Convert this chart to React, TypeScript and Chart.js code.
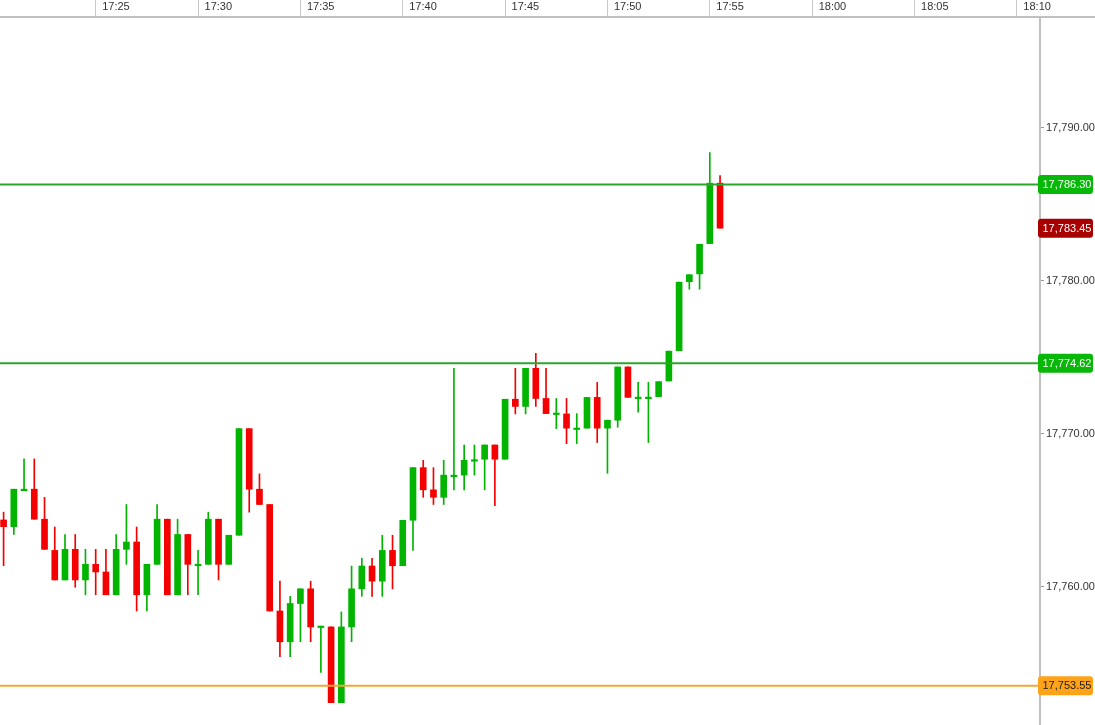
import React, { useEffect, useRef } from "react";
import { Chart, registerables } from "chart.js";

Chart.register(...registerables);

// ---- data ----
const TIMES = [
  "17:20:30", "17:21:00", "17:21:30", "17:22:00", "17:22:30", "17:23:00", "17:23:30", "17:24:00", "17:24:30", "17:25:00",
  "17:25:30", "17:26:00", "17:26:30", "17:27:00", "17:27:30", "17:28:00", "17:28:30", "17:29:00", "17:29:30", "17:30:00",
  "17:30:30", "17:31:00", "17:31:30", "17:32:00", "17:32:30", "17:33:00", "17:33:30", "17:34:00", "17:34:30", "17:35:00",
  "17:35:30", "17:36:00", "17:36:30", "17:37:00", "17:37:30", "17:38:00", "17:38:30", "17:39:00", "17:39:30", "17:40:00",
  "17:40:30", "17:41:00", "17:41:30", "17:42:00", "17:42:30", "17:43:00", "17:43:30", "17:44:00", "17:44:30", "17:45:00",
  "17:45:30", "17:46:00", "17:46:30", "17:47:00", "17:47:30", "17:48:00", "17:48:30", "17:49:00", "17:49:30", "17:50:00",
  "17:50:30", "17:51:00", "17:51:30", "17:52:00", "17:52:30", "17:53:00", "17:53:30", "17:54:00", "17:54:30", "17:55:00",
  "17:55:30",
];

const OPEN = [
  17764.38, 17763.94, 17766.29, 17766.39, 17764.43, 17762.39, 17760.46, 17762.46, 17760.46, 17761.48,
  17760.98, 17759.49, 17762.46, 17762.94, 17759.49, 17761.48, 17764.43, 17759.49, 17763.43, 17761.39,
  17761.48, 17764.43, 17761.48, 17763.38, 17770.35, 17766.39, 17765.39, 17758.43, 17756.42, 17758.92,
  17759.88, 17757.35, 17757.39, 17752.44, 17757.39, 17759.88, 17761.37, 17760.38, 17762.39, 17761.39,
  17764.36, 17767.80, 17766.35, 17765.86, 17767.21, 17767.31, 17768.22, 17768.35, 17769.28, 17768.35,
  17772.27, 17771.80, 17774.29, 17772.32, 17771.27, 17771.31, 17770.29, 17770.38, 17772.39, 17770.38,
  17770.90, 17774.38, 17772.31, 17772.31, 17772.44, 17773.46, 17775.44, 17779.95, 17780.46, 17782.44,
  17786.39,
];

const HIGH = [
  17764.89, 17766.39, 17768.37, 17768.37, 17765.86, 17763.92, 17763.43, 17763.43, 17762.46, 17762.46,
  17762.46, 17763.43, 17765.39, 17763.92, 17761.48, 17765.39, 17764.43, 17764.43, 17763.43, 17762.39,
  17764.89, 17764.43, 17763.38, 17770.35, 17770.35, 17767.39, 17765.39, 17760.38, 17759.39, 17759.88,
  17760.38, 17757.39, 17757.39, 17758.37, 17761.37, 17761.88, 17761.88, 17763.38, 17763.38, 17764.36,
  17767.80, 17768.28, 17767.80, 17768.28, 17774.29, 17769.28, 17769.28, 17769.28, 17769.28, 17772.27,
  17774.29, 17774.29, 17775.27, 17774.29, 17772.32, 17772.32, 17771.33, 17772.39, 17773.37, 17770.90,
  17774.38, 17774.38, 17773.37, 17773.37, 17773.42, 17775.41, 17779.92, 17780.41, 17782.40, 17788.39,
  17786.88,
];

const LOW = [
  17761.39, 17763.43, 17766.29, 17764.43, 17762.46, 17760.46, 17760.46, 17759.98, 17759.49, 17759.49,
  17759.49, 17759.49, 17761.48, 17758.43, 17758.43, 17761.48, 17759.49, 17759.49, 17759.49, 17759.49,
  17761.48, 17760.46, 17761.48, 17763.38, 17764.89, 17765.39, 17758.43, 17755.44, 17755.44, 17756.42,
  17756.42, 17754.42, 17752.44, 17752.44, 17756.42, 17759.39, 17759.39, 17759.39, 17759.88, 17761.39,
  17762.39, 17765.86, 17765.39, 17765.39, 17766.35, 17766.35, 17767.31, 17766.35, 17765.31, 17768.35,
  17771.31, 17771.31, 17771.80, 17771.33, 17770.35, 17769.37, 17769.37, 17770.38, 17769.44, 17767.43,
  17770.44, 17772.39, 17771.42, 17769.44, 17772.44, 17773.46, 17775.44, 17779.46, 17779.46, 17782.44,
  17783.45,
];

const CLOSE = [
  17763.94, 17766.39, 17766.39, 17764.43, 17762.46, 17760.46, 17762.46, 17760.46, 17761.48, 17760.98,
  17759.49, 17762.46, 17762.94, 17759.49, 17761.48, 17764.43, 17759.49, 17763.43, 17761.48, 17761.48,
  17764.43, 17761.48, 17763.38, 17770.35, 17766.39, 17765.39, 17758.43, 17756.42, 17758.92, 17759.88,
  17757.39, 17757.39, 17752.44, 17757.39, 17759.88, 17761.37, 17760.38, 17762.39, 17761.39, 17764.36,
  17767.80, 17766.35, 17765.86, 17767.31, 17767.25, 17768.28, 17768.28, 17769.28, 17768.35, 17772.27,
  17771.80, 17774.29, 17772.32, 17771.33, 17771.31, 17770.38, 17770.33, 17772.39, 17770.38, 17770.90,
  17774.38, 17772.39, 17772.35, 17772.35, 17773.42, 17775.41, 17779.92, 17780.41, 17782.40, 17786.39,
  17783.45,
];

const X_TICK_LABELS = ["17:25", "17:30", "17:35", "17:40", "17:45", "17:50", "17:55", "18:00", "18:05", "18:10"];
const Y_TICKS = [17760, 17770, 17780, 17790];
const LEVELS = [17786.3, 17774.62, 17753.55];

// ---- styles / ranges ----
const X_MIN = 20.325;
const X_MAX = 71.13;
const Y_MIN = 17750.98;
const Y_MAX = 17797.25;
const UP = "#00b400";
const DOWN = "#f50000";
const LEVEL_LINE_COLORS = ["#2ca52c", "#2ca52c", "#f2a634"];
const LEVEL_TAG_COLORS = ["#08b808", "#08b808", "#ffa31a"];
const LEVEL_TEXT_COLORS = ["#ffffff", "#ffffff", "#222222"];
const LAST_TAG_COLOR = "#a80000";
const AXIS_COLOR = "#c0c0c0";
const FONT = "'Liberation Sans', Arial, sans-serif";

const toMin = (t: string) => {
  const [h, m, s = "0"] = t.split(":");
  return (Number(h) - 17) * 60 + Number(m) + Number(s) / 60;
};
const fmt = (v: number) =>
  v.toLocaleString("en-US", { minimumFractionDigits: 2, maximumFractionDigits: 2 });

const tagPlugin = {
  id: "priceTags",
  afterDraw(chart: any) {
    const { ctx, chartArea } = chart;
    const y = chart.scales.y;
    const xs = chart.scales.x;
    ctx.save();
    // extend the top axis line across the price axis
    ctx.strokeStyle = AXIS_COLOR;
    ctx.lineWidth = 2;
    ctx.beginPath();
    ctx.moveTo(chartArea.right, xs.bottom);
    ctx.lineTo(chart.width, xs.bottom);
    ctx.stroke();

    const drawTag = (v: number, bg: string, fg: string) => {
      const py = y.getPixelForValue(v);
      const x0 = chartArea.right - 2;
      const w = 55;
      const h = 19;
      ctx.fillStyle = bg;
      ctx.beginPath();
      if (ctx.roundRect) ctx.roundRect(x0, py - h / 2, w, h, 3);
      else ctx.rect(x0, py - h / 2, w, h);
      ctx.fill();
      ctx.fillStyle = fg;
      ctx.font = `11px ${FONT}`;
      ctx.textAlign = "left";
      ctx.textBaseline = "middle";
      ctx.fillText(fmt(v), x0 + 4.5, py + 0.5);
    };
    LEVELS.forEach((v, i) => drawTag(v, LEVEL_TAG_COLORS[i], LEVEL_TEXT_COLORS[i]));
    drawTag(CLOSE[CLOSE.length - 1], LAST_TAG_COLOR, "#ffffff");
    ctx.restore();
  },
};

export default function App() {
  const ref = useRef<HTMLCanvasElement>(null);

  useEffect(() => {
    if (!ref.current) return;
    Chart.defaults.font.family = FONT;
    Chart.defaults.font.size = 11;

    const xs = TIMES.map(toMin);
    const colors = OPEN.map((o, i) => (CLOSE[i] >= o ? UP : DOWN));

    const levelSets = LEVELS.map((v, i) => ({
      type: "line" as const,
      label: "level" + i,
      data: [
        { x: X_MIN, y: v },
        { x: X_MAX, y: v },
      ],
      borderColor: LEVEL_LINE_COLORS[i],
      borderWidth: 2,
      pointRadius: 0,
      fill: false,
      order: 0,
    }));

    const chart = new Chart(ref.current, {
      type: "bar",
      data: {
        datasets: [
          ...levelSets,
          {
            type: "bar" as const,
            label: "body",
            data: xs.map((x, i) => ({ x, y: [OPEN[i], CLOSE[i]] })),
            backgroundColor: colors,
            borderWidth: 0,
            barThickness: 6,
            grouped: false,
            minBarLength: 1.5,
            order: 1,
          } as any,
          {
            type: "bar" as const,
            label: "wick",
            data: xs.map((x, i) => ({ x, y: [LOW[i], HIGH[i]] })),
            backgroundColor: colors,
            borderWidth: 0,
            barThickness: 1,
            grouped: false,
            order: 2,
          } as any,
        ],
      },
      options: {
        responsive: false,
        animation: false,
        layout: { padding: 0 },
        plugins: {
          legend: { display: false },
          tooltip: { enabled: false },
        },
        scales: {
          x: {
            type: "linear",
            position: "top",
            min: X_MIN,
            max: X_MAX,
            offset: false,
            grid: {
              drawOnChartArea: false,
              drawTicks: true,
              tickLength: 17,
              color: "#c8c8c8",
              lineWidth: 1,
              offset: false,
            },
            border: { display: true, color: AXIS_COLOR, width: 2 },
            afterBuildTicks: (s: any) => {
              s.ticks = X_TICK_LABELS.map((l) => ({ value: toMin(l) }));
            },
            afterFit: (s: any) => {
              s.height = 17;
              s.paddingLeft = 0;
              s.paddingRight = 0;
              s.paddingTop = 0;
              s.paddingBottom = 0;
            },
            ticks: {
              align: "start",
              labelOffset: 6.5,
              padding: -14,
              maxRotation: 0,
              autoSkip: false,
              color: "#333333",
              font: { size: 11, family: FONT },
              callback: (_v: any, i: number) => X_TICK_LABELS[i],
            },
          } as any,
          y: {
            type: "linear",
            position: "right",
            min: Y_MIN,
            max: Y_MAX,
            grid: { drawOnChartArea: false, drawTicks: true, tickLength: 4, color: "#999999" },
            border: { display: true, color: AXIS_COLOR, width: 2 },
            afterBuildTicks: (s: any) => {
              s.ticks = Y_TICKS.map((v) => ({ value: v }));
            },
            afterFit: (s: any) => {
              s.width = 55;
              s.paddingLeft = 0;
              s.paddingRight = 0;
              s.paddingTop = 0;
              s.paddingBottom = 0;
            },
            ticks: {
              padding: 2,
              color: "#333333",
              font: { size: 11, family: FONT },
              callback: (v: any) => fmt(Number(v)),
            },
          } as any,
        },
      },
      plugins: [tagPlugin],
    });

    return () => chart.destroy();
  }, []);

  return (
    <div style={{ position: "absolute", left: 0, top: 0, width: 1095, height: 725, background: "#ffffff" }}>
      <canvas ref={ref} width={1095} height={725} style={{ display: "block", width: 1095, height: 725 }} />
    </div>
  );
}
